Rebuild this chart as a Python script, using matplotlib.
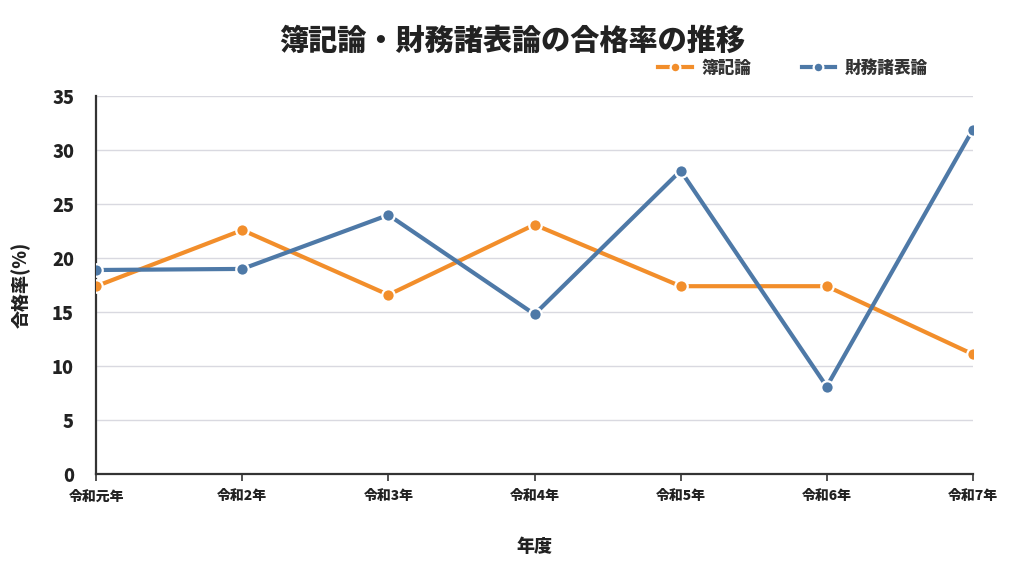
import matplotlib
matplotlib.use('Agg')
import matplotlib.pyplot as plt

plt.rcParams['font.family'] = ['Noto Sans CJK JP', 'DejaVu Sans']
plt.rcParams['font.weight'] = 'bold'

years = ['令和元年', '令和2年', '令和3年', '令和4年', '令和5年', '令和6年', '令和7年']
boki = [17.4, 22.6, 16.6, 23.1, 17.4, 17.4, 11.1]
zaihyo = [18.9, 19.0, 24.0, 14.8, 28.1, 8.1, 31.9]

fig = plt.figure(figsize=(10.24, 5.76), dpi=100)
ax = fig.add_axes([0.094, 0.177, 0.856, 0.656])

x = list(range(len(years)))
ax.plot(x, boki, color='#F28E2B', linewidth=3, marker='o', markersize=9,
        markeredgecolor='white', markeredgewidth=1.6, label='簿記論', zorder=3)
ax.plot(x, zaihyo, color='#4E79A7', linewidth=3, marker='o', markersize=9,
        markeredgecolor='white', markeredgewidth=1.6, label='財務諸表論', zorder=4)

ax.set_xlim(0, len(years) - 1)
ax.set_ylim(0, 35)
ax.set_yticks(range(0, 36, 5))
ax.set_xticks(x)
ax.set_xticklabels(years, fontsize=10, fontweight='heavy')
ax.tick_params(axis='y', labelsize=13, length=0, pad=16)
ax.tick_params(axis='x', length=5, width=1.2, color='#333333', pad=6)
for lbl in ax.get_yticklabels():
    lbl.set_fontweight('heavy')
    lbl.set_color('#222222')
for lbl in ax.get_xticklabels():
    lbl.set_color('#222222')

ax.grid(axis='y', color='#D9D9E0', linewidth=1)
ax.set_axisbelow(True)
for s in ['top', 'right']:
    ax.spines[s].set_visible(False)
for s in ['left', 'bottom']:
    ax.spines[s].set_color('#333333')
    ax.spines[s].set_linewidth(1.6)

ax.set_xlabel('年度', fontsize=13, fontweight='heavy', labelpad=24, color='#222222')
ax.set_ylabel('合格率(%)', fontsize=13, fontweight='heavy', color='#222222')
ax.yaxis.set_label_coords(-0.075, 0.5)

fig.suptitle('簿記論・財務諸表論の合格率の推移', fontsize=21, fontweight='heavy', y=0.955, color='#222222')
leg = ax.legend(loc='lower right', bbox_to_anchor=(0.966, 1.012), ncol=2, frameon=False,
                handlelength=2.0, handletextpad=0.6, columnspacing=3.0,
                prop={'weight': 'heavy', 'size': 12})
for t in leg.get_texts():
    t.set_color('#333333')
for h in leg.legend_handles:
    h.set_markersize(7)
    h.set_markeredgewidth(1.6)

fig.savefig('out.png', dpi=100)
